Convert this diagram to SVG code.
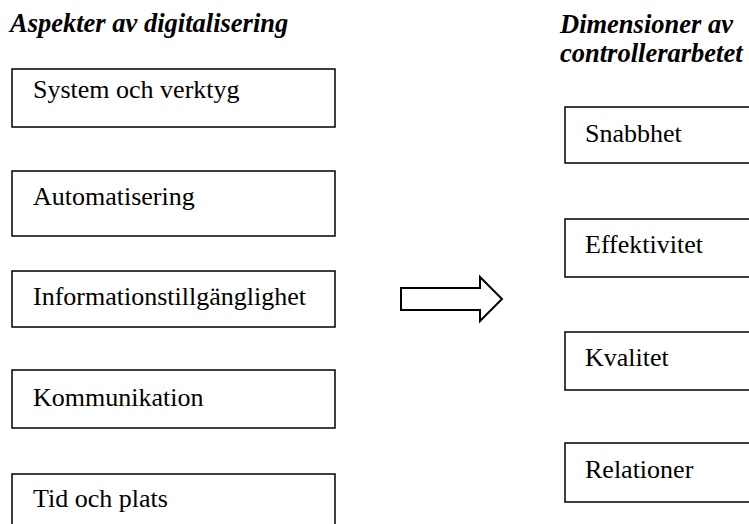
<svg xmlns="http://www.w3.org/2000/svg" width="749" height="524" viewBox="0 0 749 524">
  <style>
    .box { fill: #fff; stroke: #000; stroke-width: 1.5; }
    .label { font-family: "Liberation Serif", "Times New Roman", serif; font-size: 26px; fill: #000; }
    .title { font-family: "Liberation Serif", "Times New Roman", serif; font-size: 26.5px; font-weight: bold; font-style: italic; fill: #000; }
    .arrow { fill: #fff; stroke: #000; stroke-width: 2; stroke-linejoin: miter; }
  </style>
  <rect width="749" height="524" fill="#fff"/>

  <!-- column headings -->
  <text class="title" x="10" y="32">Aspekter av digitalisering</text>
  <text class="title" x="560" y="33">Dimensioner av</text>
  <text class="title" x="560" y="62">controllerarbetet</text>

  <!-- aspects of digitalisation -->
  <g id="system-och-verktyg">
    <rect class="box" x="12" y="69" width="323" height="58"/>
    <text class="label" x="33" y="98">System och verktyg</text>
  </g>
  <g id="automatisering">
    <rect class="box" x="12" y="171" width="323" height="65"/>
    <text class="label" x="33" y="205">Automatisering</text>
  </g>
  <g id="informationstillganglighet">
    <rect class="box" x="12" y="271" width="323" height="56"/>
    <text class="label" x="33" y="305">Informationstillgänglighet</text>
  </g>
  <g id="kommunikation">
    <rect class="box" x="12" y="370" width="323" height="58"/>
    <text class="label" x="33" y="406">Kommunikation</text>
  </g>
  <g id="tid-och-plats">
    <rect class="box" x="12" y="474" width="323" height="60"/>
    <text class="label" x="33" y="507">Tid och plats</text>
  </g>

  <!-- dimensions of controller work -->
  <g id="snabbhet">
    <rect class="box" x="565" y="107" width="200" height="56"/>
    <text class="label" x="585" y="142">Snabbhet</text>
  </g>
  <g id="effektivitet">
    <rect class="box" x="565" y="219" width="200" height="58"/>
    <text class="label" x="585" y="253">Effektivitet</text>
  </g>
  <g id="kvalitet">
    <rect class="box" x="565" y="332" width="200" height="58"/>
    <text class="label" x="585" y="366">Kvalitet</text>
  </g>
  <g id="relationer">
    <rect class="box" x="565" y="443" width="200" height="59"/>
    <text class="label" x="585" y="478">Relationer</text>
  </g>

  <!-- block arrow between the columns -->
  <g id="connectors">
    <path class="arrow" d="M401,288 L480,288 L480,277 L502,299 L480,321 L480,310 L401,310 Z"/>
  </g>
</svg>
